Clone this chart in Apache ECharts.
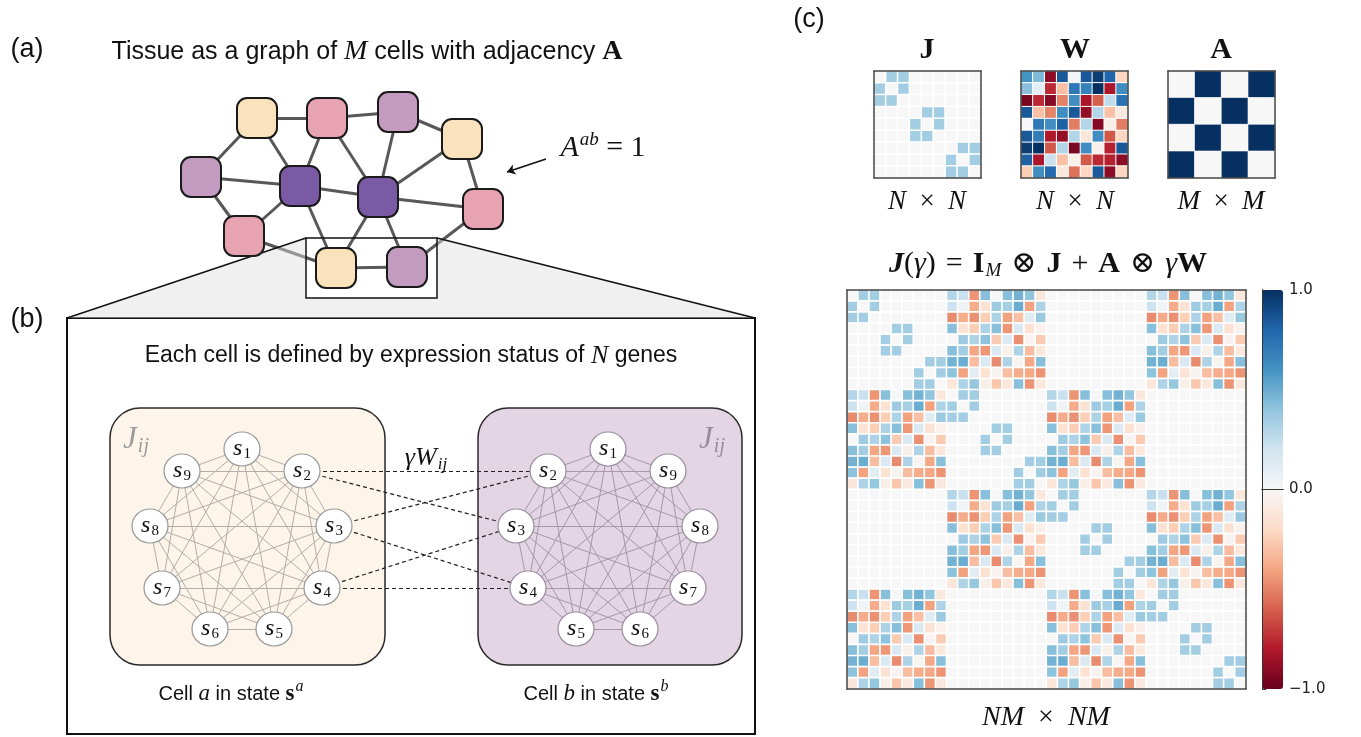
<!DOCTYPE html>
<html>
<head>
<meta charset="utf-8">
<title>Coupled gene networks in a tissue</title>
<script src="https://cdn.jsdelivr.net/npm/echarts@6/dist/echarts.min.js"></script>
<style>
  html, body { margin: 0; padding: 0; background: #ffffff; }
  #fig { width: 1361px; height: 737px; }
</style>
</head>
<body>
<div id="fig"></div>
<script>
// ---------------- data ----------------
// intra-cell gene couplings J (N x N, N = 9): three modules of three genes
const J = [
  [0.00, 0.35, 0.35, 0, 0, 0, 0, 0, 0],
  [0.35, 0.00, 0.35, 0, 0, 0, 0, 0, 0],
  [0.35, 0.35, 0.00, 0, 0, 0, 0, 0, 0],
  [0, 0, 0, 0.00, 0.35, 0.35, 0, 0, 0],
  [0, 0, 0, 0.35, 0.00, 0.35, 0, 0, 0],
  [0, 0, 0, 0.35, 0.35, 0.00, 0, 0, 0],
  [0, 0, 0, 0, 0, 0, 0.00, 0.35, 0.35],
  [0, 0, 0, 0, 0, 0, 0.35, 0.00, 0.35],
  [0, 0, 0, 0, 0, 0, 0.35, 0.35, 0.00]
];

// inter-cell gene couplings W (N x N)
const W = [
  [ 0.60,  0.45, -0.90,  0.85,  0.02,  0.85,  0.95,  0.80, -0.22],
  [ 0.42,  0.10, -0.75, -0.30,  0.72,  0.68,  1.00, -0.82,  0.62],
  [-0.95, -0.75, -0.92, -0.50,  0.62, -0.82, -0.60,  0.25,  0.75],
  [ 0.85, -0.30, -0.50,  0.62,  0.85, -0.88,  0.30, -0.30, -0.10],
  [ 0.00,  0.72,  0.62,  0.82, -0.52,  0.30, -0.92, -0.06, -0.52],
  [ 0.85,  0.70, -0.80, -0.88,  0.30, -0.12,  0.62, -0.62, -0.22],
  [ 0.95,  1.00, -0.62,  0.30, -0.95,  0.62, -0.05, -0.78,  0.85],
  [ 0.82, -0.82,  0.22, -0.30, -0.06, -0.62, -0.75, -0.78, -0.90],
  [-0.25,  0.62,  0.78, -0.12, -0.55, -0.22,  0.85, -0.90, -0.22]
];

// cell adjacency A (M x M, M = 4)
const A = [
  [0, 1, 0, 1],
  [1, 0, 1, 0],
  [0, 1, 0, 1],
  [1, 0, 1, 0]
];

// coupling strength between neighbouring cells
const gamma = 0.5;

// colour bar ticks
const colorTicks = [-1, 0, 1];

// tissue graph: cell centres [x, y] and cell type
const tissueCells = [
  [257, 118, 'peach'], [327, 118, 'pink'],  [398, 112, 'lilac'], [462, 139, 'peach'],
  [201, 177, 'lilac'], [300, 186, 'violet'], [378, 197, 'violet'], [483, 209, 'pink'],
  [244, 236, 'pink'],  [336, 268, 'peach'], [407, 267, 'lilac']
];
const tissueEdges = [
  [0, 1], [0, 4], [0, 5], [1, 2], [1, 5], [1, 6], [2, 3], [2, 6], [3, 6], [3, 7],
  [4, 5], [4, 8], [5, 6], [5, 8], [5, 9], [6, 7], [6, 9], [6, 10], [7, 10], [8, 9], [9, 10]
];

// gene nodes s1..s9 of cell a and cell b
const cellAGenes = [[242, 449], [302, 471], [334, 526], [322, 588], [274, 629], [210, 629], [162, 588], [150, 526], [182, 471]];
const cellBGenes = [[608, 449], [548, 471], [516, 526], [528, 588], [576, 629], [640, 629], [688, 588], [700, 526], [668, 471]];
// gamma*W_ij links drawn between the two cells: [gene in a, gene in b]
const cellCouplings = [[2, 2], [2, 3], [3, 2], [3, 4], [4, 3], [4, 4]];

// ---------------- derived ----------------
// full coupling matrix  I_M (x) J + A (x) gamma W
function couplingMatrix() {
  const N = J.length, M = A.length, out = [];
  for (let a = 0; a < M; a++) {
    for (let i = 0; i < N; i++) {
      const row = [];
      for (let b = 0; b < M; b++) {
        for (let j = 0; j < N; j++) {
          row.push((a === b ? J[i][j] : 0) + A[a][b] * gamma * W[i][j]);
        }
      }
      out.push(row);
    }
  }
  return out;
}
const bigJ = couplingMatrix();

function toCells(mat) {
  const cells = [];
  mat.forEach((row, i) => row.forEach((v, j) => cells.push([j, i, v])));
  return cells;
}
const indexLabels = n => Array.from({ length: n }, (_, k) => String(k));

// ---------------- styles ----------------
const SANS = "'Liberation Sans', Arial, Helvetica, sans-serif";
const SERIF = "'Liberation Serif', 'DejaVu Serif', serif";
const RDBU = ['#67001f', '#b2182b', '#d6604d', '#f4a582', '#fddbc7', '#f7f7f7',
              '#d1e5f0', '#92c5de', '#4393c3', '#2166ac', '#053061'];
const CELL_COLORS = { peach: '#f9e2bc', pink: '#e8a3b3', lilac: '#c39bc0', violet: '#7a5aa4' };
const FRAME = '#444444';
const EN = '\u2002';    // en space around the "x" of matrix sizes
const THICK = '\u2004'; // three-per-em space around equation operators

// ---------------- layout: grids and axes ----------------
const grids = [
  { left: 0, top: 0, width: 1361, height: 737 },      // schematic drawing space
  { left: 874, top: 71, width: 107, height: 107 },    // J
  { left: 1021, top: 71, width: 107, height: 107 },   // W
  { left: 1168, top: 71, width: 107, height: 107 },   // A
  { left: 847, top: 290, width: 399, height: 399 },   // full matrix
  { left: 1262, top: 290, width: 21, height: 399 }    // colour bar frame and ticks
].map(g => Object.assign({ containLabel: false, outerBoundsMode: 'none' }, g));

const lineOnly = { show: true, lineStyle: { color: FRAME, width: 1.5 } };
const noDecor = { axisTick: { show: false }, axisLabel: { show: false }, splitLine: { show: false } };

const xAxes = [{ gridIndex: 0, type: 'value', min: 0, max: 1361, show: false }];
const yAxes = [{ gridIndex: 0, type: 'value', min: 0, max: 737, inverse: true, show: false }];

function matrixAxes(gridIndex, n) {
  const data = indexLabels(n);
  xAxes.push(Object.assign({ gridIndex, type: 'category', data, position: 'bottom', axisLine: lineOnly, z: 10 }, noDecor));
  xAxes.push(Object.assign({ gridIndex, type: 'category', data, position: 'top', axisLine: lineOnly, z: 10 }, noDecor));
  yAxes.push(Object.assign({ gridIndex, type: 'category', data, inverse: true, position: 'left', axisLine: lineOnly, z: 10 }, noDecor));
  yAxes.push(Object.assign({ gridIndex, type: 'category', data, inverse: true, position: 'right', axisLine: lineOnly, z: 10 }, noDecor));
  return xAxes.length - 2; // index of the bottom x axis / left y axis
}
const axJ = matrixAxes(1, 9);
const axW = matrixAxes(2, 9);
const axA = matrixAxes(3, 4);
const axBig = matrixAxes(4, 36);

// colour bar axes
const cbLine = { show: true, lineStyle: { color: '#333', width: 1 } };
xAxes.push(Object.assign({ gridIndex: 5, type: 'value', min: 0, max: 1, position: 'bottom', axisLine: cbLine, z: 10 }, noDecor));
xAxes.push(Object.assign({ gridIndex: 5, type: 'value', min: 0, max: 1, position: 'top', axisLine: cbLine, z: 10 }, noDecor));
yAxes.push({
  gridIndex: 5, type: 'value', min: colorTicks[0], max: colorTicks[colorTicks.length - 1], interval: 1,
  position: 'right', z: 10,
  axisLine: cbLine,
  axisTick: { show: true, length: 4, lineStyle: { color: '#333', width: 1 } },
  axisLabel: {
    show: true, margin: 6, color: '#222', fontFamily: "'DejaVu Sans', sans-serif", fontSize: 15,
    formatter: v => v.toFixed(1).replace('-', '\u2212')
  },
  splitLine: { show: false }
});
yAxes.push(Object.assign({ gridIndex: 5, type: 'value', min: -1, max: 1, position: 'left', axisLine: cbLine, z: 10 }, noDecor));

// ---------------- schematic series ----------------
function rectSeries(boxes, z) {
  return {
    type: 'custom', coordinateSystem: 'cartesian2d', xAxisIndex: 0, yAxisIndex: 0, silent: true, z,
    data: boxes.map((b, k) => [b.x0, b.y0, b.x1, b.y1, k]),
    renderItem(params, api) {
      const b = boxes[params.dataIndex];
      const p0 = api.coord([api.value(0), api.value(1)]);
      const p1 = api.coord([api.value(2), api.value(3)]);
      return {
        type: 'rect',
        shape: { x: p0[0], y: p0[1], width: p1[0] - p0[0], height: p1[1] - p0[1], r: b.r || 0 },
        style: { fill: b.fill || 'none', stroke: b.stroke, lineWidth: b.lineWidth }
      };
    }
  };
}

function polySeries(points, style, z, closed) {
  return {
    type: 'custom', coordinateSystem: 'cartesian2d', xAxisIndex: 0, yAxisIndex: 0, silent: true, z,
    data: [[points[0][0], points[0][1]]],
    renderItem(params, api) {
      const pts = points.map(p => api.coord(p));
      return { type: closed ? 'polygon' : 'polyline', shape: { points: pts }, style };
    }
  };
}

function linesSeries(segments, lineStyle, z, extra) {
  return Object.assign({
    type: 'lines', coordinateSystem: 'cartesian2d', xAxisIndex: 0, yAxisIndex: 0, silent: true, z,
    polyline: false,
    data: segments.map(s => ({ coords: s })),
    lineStyle: Object.assign({ opacity: 1 }, lineStyle)
  }, extra || {});
}

const tissueEdgeSegs = tissueEdges.map(([a, b]) => [tissueCells[a].slice(0, 2), tissueCells[b].slice(0, 2)]);

function completeGraph(nodes) {
  const segs = [];
  for (let i = 0; i < nodes.length; i++)
    for (let j = i + 1; j < nodes.length; j++) segs.push([nodes[i], nodes[j]]);
  return segs;
}
const couplingSegs = cellCouplings.map(([i, j]) => [cellAGenes[i - 1], cellBGenes[j - 1]]);

const nodeRich = {
  s: { fontFamily: SERIF, fontStyle: 'italic', fontSize: 24, color: '#111' },
  n: { fontFamily: SERIF, fontSize: 15, color: '#111', padding: [11, 0, 0, 1] }
};
function geneNodes(nodes, border) {
  return {
    type: 'scatter', xAxisIndex: 0, yAxisIndex: 0, silent: true, z: 6,
    symbol: 'circle', symbolSize: [36, 34],
    itemStyle: { color: '#ffffff', borderColor: border, borderWidth: 1.2, opacity: 1 },
    label: {
      show: true, position: 'inside', rich: nodeRich,
      formatter: p => '{s|s}{n|' + (p.dataIndex + 1) + '}'
    },
    data: nodes.map(p => [p[0], p[1]])
  };
}

// trapezoid that connects the zoom box to panel (b)
const zoomBox = { x0: 306, y0: 238, x1: 437, y1: 298 };
const panelB = { x0: 67, y0: 318, x1: 755, y1: 734 };

const series = [
  // panel (b) frame and the two cells
  rectSeries([
    { x0: panelB.x0, y0: panelB.y0, x1: panelB.x1, y1: panelB.y1, stroke: '#111', lineWidth: 2 },
    { x0: 110, y0: 408, x1: 385, y1: 665, r: 30, fill: '#fdf5ea', stroke: '#2a2a2a', lineWidth: 1.5 },
    { x0: 478, y0: 408, x1: 742, y1: 665, r: 30, fill: '#e3d5e3', stroke: '#2a2a2a', lineWidth: 1.5 }
  ], 1),
  // tissue adjacency edges
  linesSeries(tissueEdgeSegs, { color: '#585858', width: 3 }, 2),
  // shaded projection from the zoom box
  polySeries([[panelB.x0, panelB.y0], [zoomBox.x0, zoomBox.y0], [zoomBox.x0, zoomBox.y1],
              [zoomBox.x1, zoomBox.y1], [zoomBox.x1, zoomBox.y0], [panelB.x1, panelB.y0]],
             { fill: 'rgba(222,222,222,0.45)', stroke: 'none' }, 3, true),
  polySeries([[panelB.x0, panelB.y0], [zoomBox.x0, zoomBox.y0]], { stroke: '#111', lineWidth: 1.5, fill: 'none' }, 4, false),
  polySeries([[panelB.x1, panelB.y0], [zoomBox.x1, zoomBox.y0]], { stroke: '#111', lineWidth: 1.5, fill: 'none' }, 4, false),
  rectSeries([{ x0: zoomBox.x0, y0: zoomBox.y0, x1: zoomBox.x1, y1: zoomBox.y1, stroke: '#111', lineWidth: 1.5 }], 4),
  // tissue cells
  {
    type: 'scatter', xAxisIndex: 0, yAxisIndex: 0, silent: true, z: 6,
    symbol: 'roundRect', symbolSize: 40,
    data: tissueCells.map(c => ({ value: [c[0], c[1]], itemStyle: { color: CELL_COLORS[c[2]] } })),
    itemStyle: { borderColor: '#1a1a1a', borderWidth: 2, opacity: 1 }
  },
  // arrow pointing at one adjacency edge
  linesSeries([[[546, 159], [507, 172]]], { color: '#111', width: 1.4 }, 6,
              { symbol: ['none', 'arrow'], symbolSize: 8 }),
  // gene networks inside each cell
  linesSeries(completeGraph(cellAGenes), { color: '#b4aea8', width: 1 }, 2),
  linesSeries(completeGraph(cellBGenes), { color: '#a697aa', width: 1 }, 2),
  // inter-cell couplings gamma W_ij
  linesSeries(couplingSegs, { color: '#222', width: 1.2, type: [4, 3] }, 3),
  geneNodes(cellAGenes, '#9a9a9a'),
  geneNodes(cellBGenes, '#9a8f9e')
];

// ---------------- matrices ----------------
const heatStyle = (bw) => ({ borderColor: '#ffffff', borderWidth: bw });
const firstHeat = series.length;
series.push(
  { type: 'heatmap', xAxisIndex: axJ, yAxisIndex: axJ, data: toCells(J), itemStyle: heatStyle(1.5), silent: true, emphasis: { disabled: true } },
  { type: 'heatmap', xAxisIndex: axW, yAxisIndex: axW, data: toCells(W), itemStyle: heatStyle(1), silent: true, emphasis: { disabled: true } },
  { type: 'heatmap', xAxisIndex: axA, yAxisIndex: axA, data: toCells(A), itemStyle: heatStyle(0.6), silent: true, emphasis: { disabled: true } },
  { type: 'heatmap', xAxisIndex: axBig, yAxisIndex: axBig, data: toCells(bigJ), itemStyle: heatStyle(1.6), silent: true, emphasis: { disabled: true }, progressive: 0 }
);
const heatIdx = [firstHeat, firstHeat + 1, firstHeat + 2, firstHeat + 3];

// ---------------- text ----------------
const rich = {
  mi: { fontFamily: SERIF, fontStyle: 'italic', fontSize: 25, fill: '#111' },
  mb: { fontFamily: SERIF, fontWeight: 'bold', fontSize: 25, fill: '#111' },
  rm: { fontFamily: SERIF, fontSize: 25, fill: '#111' },
  sup: { fontFamily: SERIF, fontStyle: 'italic', fontSize: 16, fill: '#111', padding: [0, 0, 14, 1] },
  sub: { fontFamily: SERIF, fontStyle: 'italic', fontSize: 16, fill: '#111', padding: [12, 0, 0, 1] }
};
function txt(x, y, text, base) {
  return {
    type: 'text', x, y, z: 100, silent: true,
    style: Object.assign({
      text, rich, align: 'center', verticalAlign: 'middle',
      fontFamily: SANS, fontSize: 22, fill: '#111'
    }, base || {})
  };
}
function withRich(over) {
  const r = {};
  Object.keys(rich).forEach(k => { r[k] = Object.assign({}, rich[k], over[k] || {}); });
  Object.keys(over).forEach(k => { if (!r[k]) r[k] = over[k]; });
  return r;
}
const sizeRich = (s) => withRich({ mi: { fontSize: s }, mb: { fontSize: s }, rm: { fontSize: s } });
const op = (sym, gap) => '{rm|' + (gap || EN) + sym + (gap || EN) + '}';

const graphics = [
  txt(27, 50, '(a)', { fontSize: 27 }),
  txt(27, 320, '(b)', { fontSize: 27 }),
  txt(809, 20, '(c)', { fontSize: 27 }),
  txt(367, 52, 'Tissue as a graph of {mi|M} cells with adjacency {mb|A}', {
    fontSize: 25, rich: withRich({ mi: { fontSize: 28 }, mb: { fontSize: 28 } })
  }),
  txt(603, 148, '{mi|A}{sup|ab}{rm| = 1}', {
    rich: withRich({ mi: { fontSize: 30 }, rm: { fontSize: 30 }, sup: { fontSize: 19, padding: [0, 0, 17, 1] } })
  }),
  txt(411, 356, 'Each cell is defined by expression status of {mi|N} genes', {
    fontSize: 23, rich: withRich({ mi: { fontSize: 26 } })
  }),
  txt(136, 440, '{mi|J}{sub|ij}', {
    rich: withRich({ mi: { fontSize: 31, fill: '#9b9b9b' }, sub: { fontSize: 20, fill: '#9b9b9b', padding: [14, 0, 0, 1] } })
  }),
  txt(712, 440, '{mi|J}{sub|ij}', {
    rich: withRich({ mi: { fontSize: 31, fill: '#9a8b9c' }, sub: { fontSize: 20, fill: '#9a8b9c', padding: [14, 0, 0, 1] } })
  }),
  txt(426, 458, '{mi|\u03b3W}{sub|ij}', {
    rich: withRich({ mi: { fontSize: 26 }, sub: { fontSize: 17, padding: [13, 0, 0, 1] } })
  }),
  txt(231, 694, 'Cell {mi|a} in state {mb|s}{sup|a}', {
    fontSize: 20, rich: withRich({ mi: { fontSize: 23 }, mb: { fontSize: 23 }, sup: { fontSize: 16, padding: [0, 0, 14, 1] } })
  }),
  txt(596, 694, 'Cell {mi|b} in state {mb|s}{sup|b}', {
    fontSize: 20, rich: withRich({ mi: { fontSize: 23 }, mb: { fontSize: 23 }, sup: { fontSize: 16, padding: [0, 0, 14, 1] } })
  }),
  txt(927, 50, '{mb|J}', { rich: withRich({ mb: { fontSize: 30 } }) }),
  txt(1075, 50, '{mb|W}', { rich: withRich({ mb: { fontSize: 30 } }) }),
  txt(1221, 50, '{mb|A}', { rich: withRich({ mb: { fontSize: 30 } }) }),
  txt(927, 202, '{mi|N}' + op('\u00d7') + '{mi|N}', { rich: sizeRich(27) }),
  txt(1075, 202, '{mi|N}' + op('\u00d7') + '{mi|N}', { rich: sizeRich(27) }),
  txt(1221, 202, '{mi|M}' + op('\u00d7') + '{mi|M}', { rich: sizeRich(27) }),
  txt(1048, 264, '{cal|J}{rm|(}{mi|\u03b3}{rm|)}' + op('=', THICK) + '{mb|I}{sub|M}' + op('\u2297', THICK) + '{mb|J}' +
                 op('+', THICK) + '{mb|A}' + op('\u2297', THICK) + '{mi|\u03b3}{mb|W}', {
    rich: withRich({
      cal: { fontFamily: SERIF, fontStyle: 'italic', fontWeight: 'bold', fontSize: 30, fill: '#111' },
      mi: { fontSize: 30 }, mb: { fontSize: 30 }, rm: { fontSize: 30 },
      sub: { fontSize: 19, padding: [14, 0, 0, 1] }
    })
  }),
  txt(1046, 718, '{mi|NM}' + op('\u00d7') + '{mi|NM}', { rich: sizeRich(28) })
];

// ---------------- chart ----------------
const chart = echarts.init(document.getElementById('fig'), null, { renderer: 'canvas', width: 1361, height: 737 });
chart.setOption({
  animation: false,
  backgroundColor: '#ffffff',
  grid: grids,
  xAxis: xAxes,
  yAxis: yAxes,
  visualMap: [{
    type: 'continuous', min: -1, max: 1, seriesIndex: heatIdx,
    inRange: { color: RDBU },
    show: true, calculable: false, hoverLink: false,
    orient: 'vertical', left: 1262, top: 290, itemWidth: 21, itemHeight: 399, padding: 0,
    text: null
  }],
  series,
  graphic: { elements: graphics }
});
</script>
</body>
</html>
